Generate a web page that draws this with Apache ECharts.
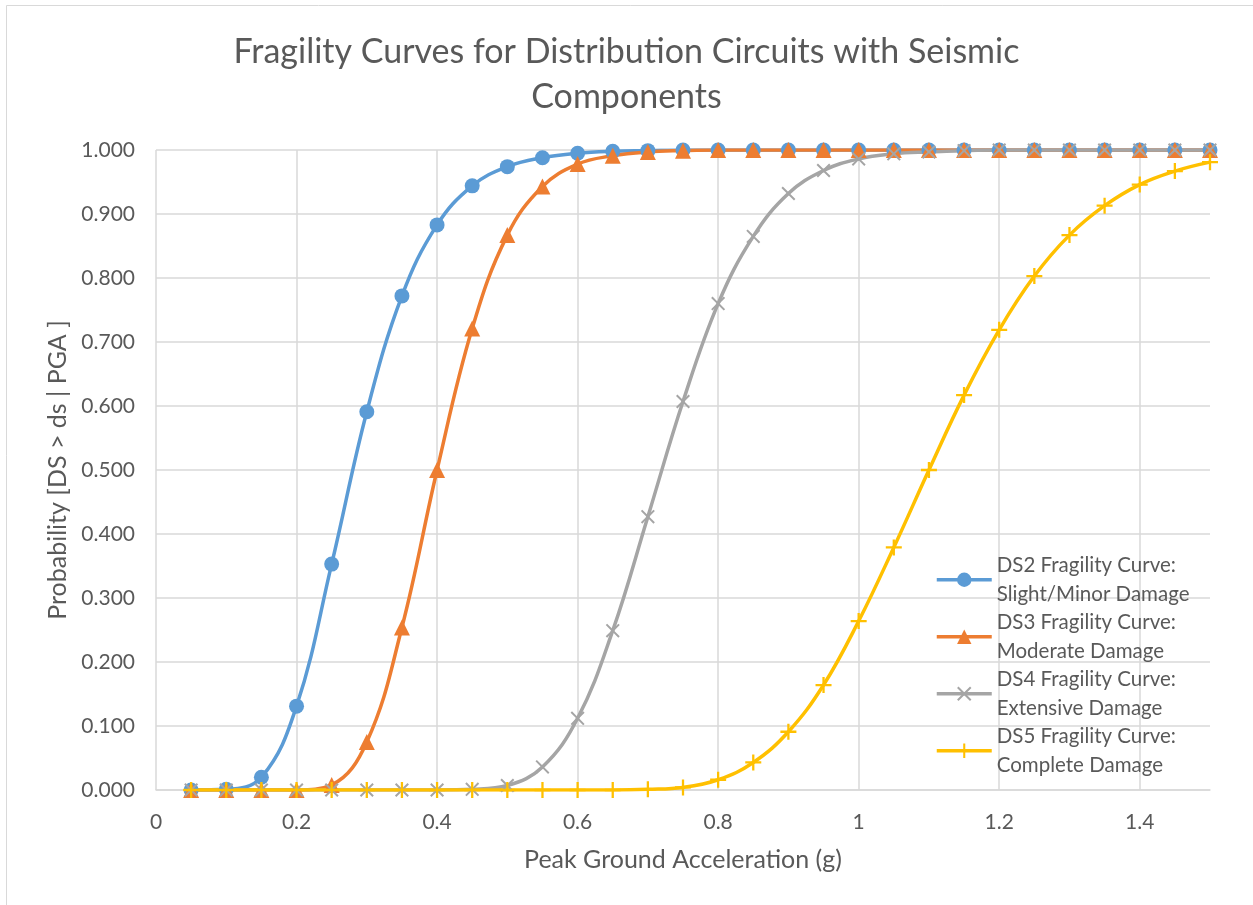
<!DOCTYPE html>
<html>
<head>
<meta charset="utf-8">
<title>Fragility Curves</title>
<script src="https://cdn.jsdelivr.net/npm/echarts@6/dist/echarts.min.js"></script>
<style>
  html, body { margin: 0; padding: 0; background: #fff; }
  #chart { width: 1253px; height: 905px; }
</style>
</head>
<body>
<div id="chart"></div>
<script>
// PGA values (g)
const pga = [0.05, 0.10, 0.15, 0.20, 0.25, 0.30, 0.35, 0.40, 0.45, 0.50,
             0.55, 0.60, 0.65, 0.70, 0.75, 0.80, 0.85, 0.90, 0.95, 1.00,
             1.05, 1.10, 1.15, 1.20, 1.25, 1.30, 1.35, 1.40, 1.45, 1.50];

// probabilities
const ds2 = [0.000, 0.001, 0.020, 0.131, 0.353, 0.591, 0.772, 0.883, 0.944, 0.974,
             0.988, 0.995, 0.998, 0.999, 1.000, 1.000, 1.000, 1.000, 1.000, 1.000,
             1.000, 1.000, 1.000, 1.000, 1.000, 1.000, 1.000, 1.000, 1.000, 1.000];
const ds3 = [0.000, 0.000, 0.000, 0.000, 0.008, 0.075, 0.254, 0.500, 0.721, 0.867,
             0.943, 0.978, 0.991, 0.997, 0.999, 1.000, 1.000, 1.000, 1.000, 1.000,
             1.000, 1.000, 1.000, 1.000, 1.000, 1.000, 1.000, 1.000, 1.000, 1.000];
const ds4 = [0.000, 0.000, 0.000, 0.000, 0.000, 0.000, 0.000, 0.000, 0.001, 0.007,
             0.036, 0.112, 0.249, 0.427, 0.607, 0.760, 0.865, 0.932, 0.968, 0.986,
             0.994, 0.997, 0.999, 1.000, 1.000, 1.000, 1.000, 1.000, 1.000, 1.000];
const ds5 = [0.000, 0.000, 0.000, 0.000, 0.000, 0.000, 0.000, 0.000, 0.000, 0.000,
             0.000, 0.000, 0.000, 0.001, 0.004, 0.016, 0.043, 0.091, 0.164, 0.264,
             0.379, 0.500, 0.617, 0.719, 0.803, 0.867, 0.913, 0.946, 0.967, 0.981];

const seriesNames = [
    'DS2 Fragility Curve:\nSlight/Minor Damage',
    'DS3 Fragility Curve:\nModerate Damage',
    'DS4 Fragility Curve:\nExtensive Damage',
    'DS5 Fragility Curve:\nComplete Damage'
];
const seriesColors = ['#5b9bd5', '#ed7d31', '#a5a5a5', '#ffc000'];

const FONT = 'Lato';
const TEXT = '#595959';
const GRID = '#d9d9d9';
const LEGEND_LINE = 28.5;

// marker shapes (Excel style x and +)
const xMark = 'path://M-7,-5.6 L-5.6,-7 L0,-1.4 L5.6,-7 L7,-5.6 L1.4,0 L7,5.6 L5.6,7 L0,1.4 L-5.6,7 L-7,5.6 L-1.4,0 Z';
const plusMark = 'path://M-1,-7 L1,-7 L1,-1 L7,-1 L7,1 L1,1 L1,7 L-1,7 L-1,1 L-7,1 L-7,-1 L-1,-1 Z';
const symbols = ['circle', 'triangle', xMark, plusMark];
const symbolSizes = [15, 16, 14, 16];

const pairs = (ys) => pga.map((x, i) => [x, ys[i]]);
const allData = [ds2, ds3, ds4, ds5];

const chart = echarts.init(document.getElementById('chart'));

const options = {
    backgroundColor: '#fff',
    animation: false,
    title: {
        text: 'Fragility Curves for Distribution Circuits with Seismic\nComponents',
        left: 'center',
        top: 25,
        textStyle: {
            fontFamily: FONT,
            fontSize: 34,
            fontWeight: 'normal',
            color: TEXT,
            lineHeight: 45
        }
    },
    graphic: [{
        type: 'rect',
        silent: true,
        shape: { x: 6.5, y: 5.5, width: 1300, height: 1000 },
        style: { fill: 'none', stroke: GRID, lineWidth: 1 }
    }],
    legend: {
        orient: 'vertical',
        left: 935,
        top: 537,
        padding: 0,
        itemWidth: 55,
        itemHeight: 18,
        itemGap: -LEGEND_LINE,
        selectedMode: false,
        lineStyle: { width: 3.5 },
        textStyle: {
            fontFamily: FONT,
            fontSize: 20.5,
            color: TEXT,
            lineHeight: LEGEND_LINE,
            padding: [LEGEND_LINE, 0, 0, 0] // keeps the marker level with the first line
        },
        data: seriesNames
    },
    grid: {
        left: 156,
        right: 43,
        top: 150,
        bottom: 115,
        containLabel: false,
        outerBoundsMode: 'none'
    },
    xAxis: {
        type: 'value',
        min: 0,
        max: 1.5,
        interval: 0.2,
        name: 'Peak Ground Acceleration (g)',
        nameLocation: 'middle',
        nameGap: 57,
        nameTextStyle: { fontFamily: FONT, fontSize: 25, color: TEXT },
        axisLine: { show: true, lineStyle: { color: GRID, width: 1.5 } },
        axisTick: { show: false },
        axisLabel: {
            fontFamily: FONT, fontSize: 21, color: TEXT, margin: 22,
            showMaxLabel: false
        },
        splitLine: {
            show: true,
            // no gridline drawn at the 1.5 edge
            lineStyle: { color: [GRID, GRID, GRID, GRID, GRID, GRID, GRID, GRID, 'rgba(0,0,0,0)'], width: 1.5 }
        }
    },
    yAxis: {
        type: 'value',
        min: 0,
        max: 1,
        interval: 0.1,
        name: 'Probability [DS > ds | PGA ]',
        nameLocation: 'middle',
        nameGap: 85,
        nameTextStyle: { fontFamily: FONT, fontSize: 25, color: TEXT },
        axisLine: { show: false },
        axisTick: { show: false },
        axisLabel: {
            fontFamily: FONT, fontSize: 21, color: TEXT, margin: 21,
            formatter: (v) => v.toFixed(3)
        },
        splitLine: { show: true, lineStyle: { color: GRID, width: 1.5 } }
    },
    series: seriesNames.map((name, k) => ({
        name: name,
        type: 'line',
        data: pairs(allData[k]),
        smooth: 0.4,
        symbol: symbols[k],
        symbolSize: symbolSizes[k],
        showAllSymbol: true,
        lineStyle: { color: seriesColors[k], width: 3.5 },
        itemStyle: { color: seriesColors[k] },
        emphasis: { disabled: true }
    }))
};

chart.setOption(options);
</script>
</body>
</html>
